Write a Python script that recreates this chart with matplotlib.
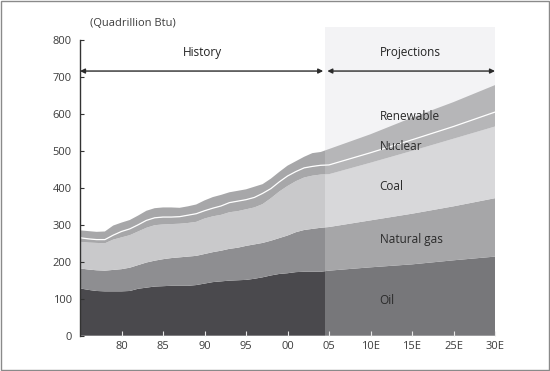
import matplotlib
matplotlib.use("Agg")
import matplotlib.pyplot as plt
from matplotlib.patches import Rectangle
import numpy as np

plt.rcParams['font.family'] = ['Open Sans', 'DejaVu Sans']

# x positions (1975-2004 history, then projection points placed at 5-year spacing)
years = list(range(1975, 2005)) + [2005, 2010, 2015, 2020, 2025]
tick_pos = [1980, 1985, 1990, 1995, 2000, 2005, 2010, 2015, 2020, 2025]
tick_labels = ["80", "85", "90", "95", "00", "05", "10E", "15E", "25E", "30E"]

oil = [128, 124, 121, 120, 120, 120, 121, 127, 130, 133, 134, 135, 135, 135, 137,
       141, 145, 147, 149, 150, 151, 154, 158, 163, 167, 169, 172, 173, 173, 173,
       176, 185, 193, 204, 214]
gas = [54, 55, 56, 56, 58, 60, 63, 64, 68, 70, 73, 75, 77, 79, 79,
       80, 81, 83, 86, 88, 92, 93, 93, 94, 97, 102, 108, 113, 116, 119,
       118, 127, 137, 146, 158]
coal = [72, 73, 74, 74, 82, 86, 88, 91, 94, 96, 94, 92, 91, 91, 92,
        96, 97, 97, 99, 99, 99, 100, 105, 115, 126, 134, 138, 142, 144, 144,
        143, 156, 170, 183, 194]
nuclear = [11, 10, 9, 10, 12, 16, 17, 18, 20, 20, 20, 19, 19, 21, 22,
           21, 22, 24, 26, 27, 26, 27, 29, 26, 26, 27, 26, 26, 25, 25,
           25, 27, 30, 33, 39]
renewable = [20, 21, 21, 22, 26, 24, 24, 25, 26, 26, 26, 26, 24, 24, 25,
             28, 30, 30, 28, 28, 28, 29, 25, 27, 27, 28, 28, 30, 36, 36,
             43, 50, 60, 66, 73]

labels = ["Oil", "Natural gas", "Coal", "Nuclear", "Renewable"]
label_y = [94, 259, 405, 511, 592]

hist_colors = ["#4a494d", "#8e8e91", "#c9c9cb", "#a7a7a9", "#a7a7a9"]
proj_colors = ["#77777a", "#a6a6a8", "#d8d8da", "#b6b6b8", "#b6b6b8"]

boundary = 2004.55
x_min, x_max = 1975, 2025

fig = plt.figure(figsize=(5.5, 3.71), dpi=100)
ax = fig.add_axes([80/550, 1-335.7/371, 415/550, (335.7-40)/371])
ax.set_xlim(x_min, x_max)
ax.set_ylim(0, 800)

# projection background shading (extends above the axes top)
shade = Rectangle((boundary, 0), x_max - boundary, 835, facecolor="#f3f3f5",
                  edgecolor="none", clip_on=False, zorder=0)
ax.add_patch(shade)

series = [oil, gas, coal, nuclear, renewable]
polys_h = ax.stackplot(years, *series, colors=hist_colors, linewidth=0, zorder=1)
polys_p = ax.stackplot(years, *series, colors=proj_colors, linewidth=0, zorder=2)

clip_h = Rectangle((x_min, 0), boundary - x_min, 1000, transform=ax.transData)
clip_p = Rectangle((boundary, 0), x_max - boundary, 1000, transform=ax.transData)
for p in polys_h:
    p.set_clip_path(clip_h)
for p in polys_p:
    p.set_clip_path(clip_p)

# white line at top of nuclear
nuc_top = np.array(oil) + np.array(gas) + np.array(coal) + np.array(nuclear)
ax.plot(years, nuc_top, color="white", lw=0.9, zorder=3)

# arrows
arrow_y = 716
arrowprops = dict(arrowstyle="<|-|>", color="#2b2b2b", lw=1.0,
                  mutation_scale=7, shrinkA=0, shrinkB=0)
ax.annotate("", xy=(x_min, arrow_y), xytext=(boundary - 0.25, arrow_y),
            arrowprops=arrowprops, annotation_clip=False, zorder=5)
ax.annotate("", xy=(boundary + 0.25, arrow_y), xytext=(x_max, arrow_y),
            arrowprops=arrowprops, annotation_clip=False, zorder=5)

ax.text((x_min + boundary) / 2, 767, "History", ha="center", va="center",
        fontsize=8.5, color="#222222")
ax.text((boundary + x_max) / 2, 767, "Projections", ha="center", va="center",
        fontsize=8.5, color="#222222")

for lab, yv in zip(labels, label_y):
    ax.text(2011.1, yv, lab, ha="left", va="center", fontsize=8.5, color="#2a2a2a",
            zorder=6)

# axes styling
for s in ["top", "right", "bottom"]:
    ax.spines[s].set_visible(False)
ax.spines["left"].set_color("#333333")
ax.spines["left"].set_linewidth(1.0)
ax.spines["left"].set_zorder(6)

ax.set_yticks(range(0, 801, 100))
ax.tick_params(axis="y", direction="in", length=3, width=0.8, color="#333333",
               labelsize=8, labelcolor="#3c3c3c", pad=6)
ax.set_xticks(tick_pos)
ax.set_xticklabels(tick_labels)
ax.tick_params(axis="x", direction="in", length=3.5, width=0.8, color="#e8e8e8",
               labelsize=8, labelcolor="#3c3c3c", pad=4)
for t in ax.xaxis.get_major_ticks():
    t.tick1line.set_zorder(7)
ax.set_axisbelow(False)

fig.text(90/550, 1-24/371, "(Quadrillion Btu)", ha="left", va="center",
         fontsize=8, color="#3c3c3c")

# outer frame
frame = Rectangle((0.002, 0.003), 0.996, 0.994, transform=fig.transFigure,
                  facecolor="none", edgecolor="#8a8a8a", lw=1.0)
fig.patches.append(frame)

fig.savefig("out.png", dpi=100)
